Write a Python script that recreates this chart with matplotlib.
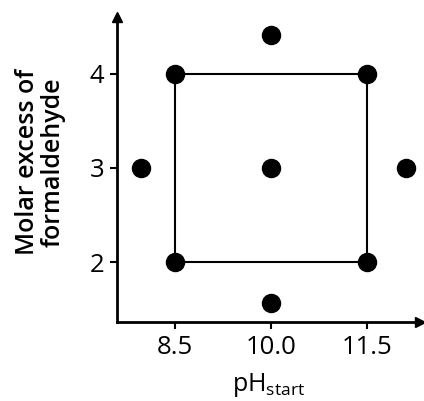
import matplotlib
matplotlib.use("Agg")
import matplotlib.pyplot as plt

plt.rcParams['font.family'] = ['Open Sans', 'DejaVu Sans']

# Central composite design points
ph_values = [8.5, 8.5, 11.5, 11.5, 10.0, 10.0, 10.0, 7.97, 12.11]
excess_values = [2.0, 4.0, 2.0, 4.0, 3.0, 1.56, 4.41, 3.0, 3.0]

# square (factorial part)
square_ph = [8.5, 11.5, 11.5, 8.5, 8.5]
square_excess = [4.0, 4.0, 2.0, 2.0, 4.0]

xticks = [8.5, 10.0, 11.5]
xtick_labels = ["8.5", "10.0", "11.5"]
yticks = [2, 3, 4]
ytick_labels = ["2", "3", "4"]

fig = plt.figure(figsize=(4.24, 4.01), dpi=100)
ax = fig.add_axes([117/424, 1 - 322/401, (420-117)/424, (322-17)/401])

ax.plot(square_ph, square_excess, color='black', lw=1.5, zorder=2)
ax.plot(ph_values, excess_values, 'o', color='black', ms=13, zorder=3)

ax.set_xlim(7.594, 12.33)
ax.set_ylim(1.362, 4.606)

ax.spines['top'].set_visible(False)
ax.spines['right'].set_visible(False)
for s in ['left', 'bottom']:
    ax.spines[s].set_linewidth(2)

ax.set_xticks(xticks)
ax.set_xticklabels(xtick_labels, fontsize=18.5)
ax.set_yticks(yticks)
ax.set_yticklabels(ytick_labels, fontsize=18.5)
ax.tick_params(width=1.5, length=5, color='black', pad=4)

# arrows
ax.plot(1, 0, '>', color='black', ms=7, transform=ax.transAxes, clip_on=False)
ax.plot(0, 1, '^', color='black', ms=7, transform=ax.transAxes, clip_on=False)

ax.set_xlabel(r"pH$_{\mathregular{start}}$", fontsize=18, labelpad=8)
ax.set_ylabel("Molar excess of\nformaldehyde", fontsize=18, fontweight='semibold',
              linespacing=1.05)
ax.yaxis.set_label_coords(-0.17, 0.525)

fig.savefig("out.png", dpi=100)
